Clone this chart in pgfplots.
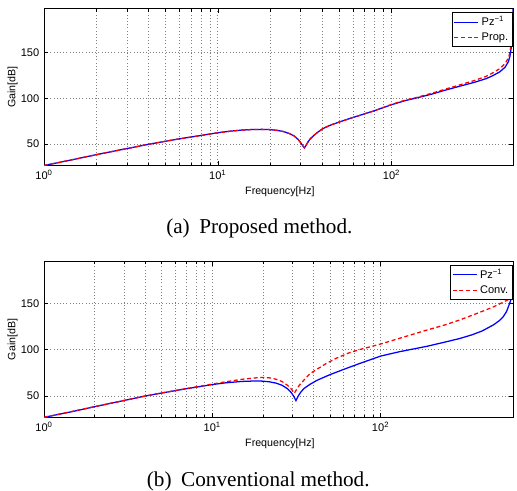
\documentclass[border=0pt]{standalone}
\usepackage{fontspec}
\setmainfont{Liberation Sans}
\newfontfamily\capfont{Liberation Serif}
\usepackage{pgfplots}
\pgfplotsset{compat=1.18}
\definecolor{gridc}{gray}{0.5}
\pgfplotsset{
  myax/.style={
    scale only axis, width=351.75pt,
    xmin=1,
    xtick={1,10,100},
    xticklabels={10\textsuperscript{0},10\textsuperscript{1},10\textsuperscript{2}},
    ytick={50,100,150},
    tick align=inside,
    major tick length=3pt, minor tick length=2pt,
    xmajorgrids, xminorgrids, ymajorgrids,
    grid style={dotted, gridc, line width=0.45pt},
    axis line style={line width=0.7pt},
    every tick/.style={black, line width=0.4pt},
    tick label style={font=\fontsize{8.3}{10}\selectfont},
    label style={font=\fontsize{8}{9.6}\selectfont},
    xlabel={Frequency[Hz]}, ylabel={Gain[dB]},
    xlabel style={at={(axis description cs:0.503,-0.185)}, anchor=base},
    ylabel style={at={(axis description cs:-0.067,0.5)}, anchor=center},
    legend style={at={(axis description cs:1,1)}, anchor=north east, xshift=-0.3pt, yshift=-2.4pt,
      font=\fontsize{8.3}{10}\selectfont, draw=black, line width=0.7pt, inner sep=1pt, row sep=0pt,
      cells={anchor=west}},
    legend image code/.code={\draw[#1, line width=0.9pt] (0pt,0pt) -- (18pt,0pt);},
  }
}
\begin{document}
\begin{tikzpicture}
\useasboundingbox (0,0) rectangle (387.75pt,367.5pt);
% ---------- (a) ----------
\begin{semilogxaxis}[myax, /pgf/number format/assume math mode=true, at={(33pt,243.4pt)}, anchor=south west, height=117.4pt,
  xmax=500, ymin=26.5, ymax=197.8]
\addplot[blue, line width=0.95pt] coordinates {
(1,26.5) (1.25,30.2) (1.5,33.3) (1.75,36) (2,38.3) (2.5,42) (3,45) (3.5,47.5) (4,49.7)
(5,53) (6,55.6) (7,57.6) (8,59.3) (9,60.9) (10,62.3) (12,64.2) (14,65.3) (16,65.9) (18,66)
(20,65.7) (22,64.9) (24,63.5) (26,61.2) (27.5,58.8) (29,55) (30,51.5) (31,47.5) (31.5,45.8)
(32,47.5) (33,52) (34,55.5) (36,60) (38,63.5) (40,66.5) (42,68.5) (45,71) (50,74) (60,79)
(70,83) (80,86.5) (90,90) (100,93) (120,97.5) (140,100.5) (170,104.5) (200,108.5) (250,113.5)
(300,117.5) (350,121.5) (380,124.5) (420,129) (450,134) (470,140) (480,146) (488,155)
(493,166) (497,180) (500,197.8)};
\addlegendentry{Pz\textsuperscript{−1}}
\addplot[red, dash pattern=on 3pt off 2pt, line width=0.95pt] coordinates {
(1,26.5) (1.25,30.2) (1.5,33.3) (1.75,36) (2,38.3) (2.5,42) (3,45) (3.5,47.5) (4,49.7)
(5,53) (6,55.6) (7,57.6) (8,59.3) (9,60.9) (10,62.3) (12,64.2) (14,65.3) (16,65.9) (18,66)
(20,65.7) (22,64.9) (24,63.5) (26,61.2) (27.5,58.8) (29,55) (30,51.5) (31,47.5) (31.5,45.8)
(32,47.5) (33,52) (34,55.5) (36,60) (38,63.5) (40,66.5) (42,68.5) (45,71) (50,74) (60,79)
(70,83) (80,86.5) (90,90) (100,93.3) (120,98) (140,101) (170,105.5) (200,109.5) (250,115)
(300,119.5) (350,124) (380,127.5) (420,132.5) (450,138) (470,144) (480,150) (488,160)
(493,170) (497,183) (500,196)};
\addlegendentry{Prop.}
\end{semilogxaxis}
% ---------- (b) ----------
\begin{semilogxaxis}[myax, /pgf/number format/assume math mode=true, at={(33pt,54.5pt)}, anchor=south west, height=116.85pt,
  xmax=612, ymin=27, ymax=194.9]
\addplot[blue, line width=0.95pt] coordinates {
(1,27) (1.5,33.5) (2,38.5) (3,45.2) (4,50) (5,53.2) (6,55.7) (7,57.8) (8,59.5) (10,62.3)
(12,64.2) (15,65.7) (18,66.2) (20,66) (22,65.2) (24,63.8) (26,61.5) (28,57.8) (29.5,53.5)
(30.5,49.5) (31.4,45) (32.3,49.5) (33.5,54) (35,58) (38,62.5) (42,67) (50,73) (60,78.5)
(75,85) (100,93) (130,97.8) (188,103.5) (240,108) (296,112) (350,116) (400,120)
(468,126.6) (510,131.5) (536,135.6) (560,141) (574,146) (590,152) (600,157) (607,162) (612,168)};
\addlegendentry{Pz\textsuperscript{−1}}
\addplot[red, dash pattern=on 3pt off 2pt, line width=0.95pt] coordinates {
(1,27) (2,38.5) (3,45.2) (4,50) (5,53.3) (7,58) (10,62.8) (12,65.3) (15,68) (18,69.5)
(20,70) (22,69.5) (24,68) (26,65.5) (28,61.5) (29.5,57.5) (30.7,53) (31.8,57.5) (33,62)
(35,67) (38,74) (42,79) (48,85.5) (55,91) (65,96.5) (75,100) (100,106) (140,114) (188,121)
(240,126.5) (296,132) (380,139.5) (468,146) (540,151.5) (612,156.5)};
\addlegendentry{Conv.}
\end{semilogxaxis}
\node[anchor=base, font=\capfont\fontsize{15.9}{19}\selectfont] at (194.5pt,192.4pt) {(a)\hspace{0.45em}Proposed method.};
\node[anchor=base, font=\capfont\fontsize{15.9}{19}\selectfont] at (193.7pt,3pt) {(b)\hspace{0.45em}Conventional method.};
\end{tikzpicture}
\end{document}
